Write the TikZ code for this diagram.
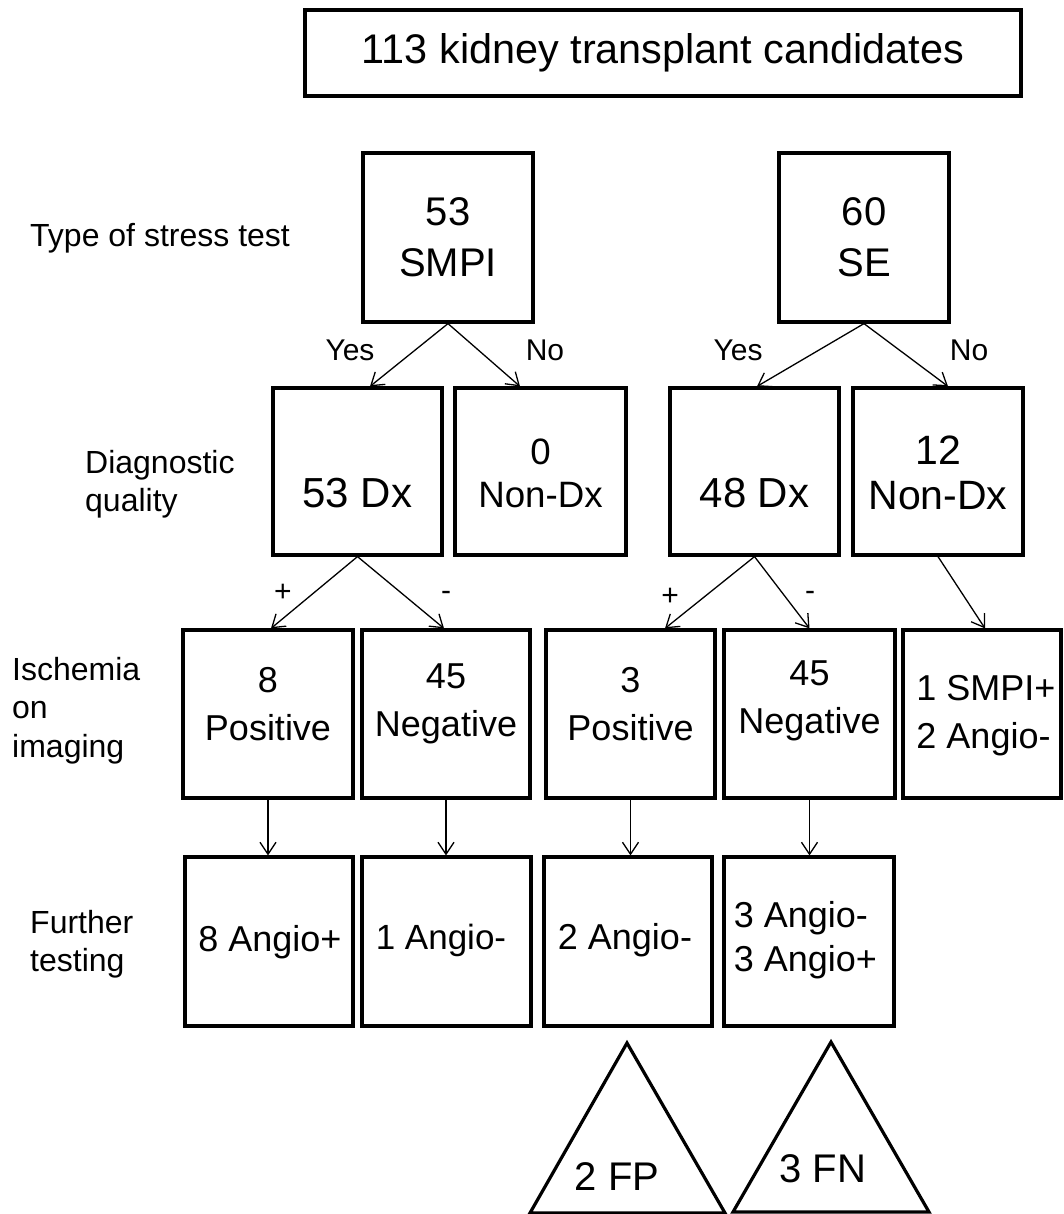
\documentclass[tikz,border=0pt]{standalone}
\usepackage{fontspec}
\setmainfont{Liberation Sans}
\usetikzlibrary{arrows.meta,calc}
\begin{document}
\begin{tikzpicture}[x=1pt,y=-1pt,
  box/.style={draw, line width=3.2pt, inner sep=0pt},
  bt/.style={inner sep=0pt, align=center, font=\fontsize{36}{48}\selectfont},
  btl/.style={inner sep=0pt, align=left, font=\fontsize{36}{46}\selectfont},
  lab/.style={inner sep=0pt, align=left, anchor=west, font=\fontsize{32}{37.5}\selectfont},
  yn/.style={inner sep=0pt, font=\fontsize{30}{36}\selectfont},
  arr/.style={-{Straight Barb[length=12pt,width=16pt]}, line width=1.3pt},
  tri/.style={draw, line width=3.2pt, line join=miter}]
\useasboundingbox (0,0) rectangle (1063,1214);

% title
\node[box, minimum width=716pt, minimum height=86pt, font=\fontsize{41.4}{50}\selectfont] (top) at (663,53) {113 kidney transplant candidates};

% left labels
\node[lab] (lType) at (30,238.5) {Type of stress test};
\node[lab] (lDiag) at (85,484) {Diagnostic\\quality};
\node[lab, font=\fontsize{32}{38.5}\selectfont] (lIsch) at (12,710.5) {Ischemia\\on\\imaging};
\node[lab] (lFurt) at (30,944) {Further\\testing};

% row 1
\node[box, minimum width=170pt, minimum height=169pt] (smpi) at (448,237.5) {};
\node[box, minimum width=170pt, minimum height=169pt] (se) at (864,237.5) {};
\node[bt, font=\fontsize{40}{51}\selectfont] (smpiT) at (448,237.5) {53\\SMPI};
\node[bt, font=\fontsize{40}{51}\selectfont] (seT) at (864,237.5) {60\\SE};

% row 2
\node[box, minimum width=169pt, minimum height=167pt] (dx1) at (357.5,471.5) {};
\node[box, minimum width=171pt, minimum height=167pt] (nd1) at (540.5,471.5) {};
\node[box, minimum width=169pt, minimum height=167pt] (dx2) at (754.5,471.5) {};
\node[box, minimum width=170pt, minimum height=167pt] (nd2) at (938,471.5) {};
\node[bt, font=\fontsize{42}{48}\selectfont] (dx1T) at (357.5,493) {53 Dx};
\node[bt, font=\fontsize{36.7}{43}\selectfont] (nd1T) at (540.5,473) {0\\Non-Dx};
\node[bt, font=\fontsize{42}{48}\selectfont] (dx2T) at (754.5,493) {48 Dx};
\node[bt, font=\fontsize{41}{45}\selectfont] (nd2T) at (938,473) {12\\Non-Dx};

% row 3
\node[box, minimum width=170pt, minimum height=168pt] (pos1) at (268,714) {};
\node[box, minimum width=168pt, minimum height=168pt] (neg1) at (446,714) {};
\node[box, minimum width=169pt, minimum height=168pt] (pos2) at (630.5,714) {};
\node[box, minimum width=171pt, minimum height=168pt] (neg2) at (809.5,714) {};
\node[box, minimum width=158pt, minimum height=168pt] (sp) at (982,714) {};
\node[bt] (pos1T) at (268,704) {8\\Positive};
\node[bt] (neg1T) at (446,704) {45\\Negative};
\node[bt] (pos2T) at (630.5,704) {3\\Positive};
\node[bt] (neg2T) at (809.5,701) {45\\Negative};
\node[btl, font=\fontsize{36}{48}\selectfont] (spT) at (986,716) {1 SMPI+\\2 Angio-};

% row 4
\node[box, minimum width=168pt, minimum height=169pt] (ang1) at (269,941.5) {};
\node[box, minimum width=169pt, minimum height=169pt] (ang2) at (446.5,941.5) {};
\node[box, minimum width=168pt, minimum height=169pt] (ang3) at (628,941.5) {};
\node[box, minimum width=170pt, minimum height=169pt] (ang4) at (809,941.5) {};
\node[bt] (ang1T) at (270,942) {8 Angio+};
\node[bt, font=\fontsize{35}{44}\selectfont] (ang2T) at (441,940) {1 Angio-};
\node[bt] (ang3T) at (625,940) {2 Angio-};
\node[btl, font=\fontsize{36}{44}\selectfont] (ang4T) at (805.5,940) {3 Angio-\\3 Angio+};

% yes / no / + / - labels
\node[yn] (yes1) at (350,350) {Yes};
\node[yn] (no1) at (545,350) {No};
\node[yn] (yes2) at (738,350) {Yes};
\node[yn] (no2) at (969,350) {No};
\node[yn] (plus1) at (283,593) {+};
\node[yn] (minus1) at (446,596) {-};
\node[yn] (plus2) at (670,597) {+};
\node[yn] (minus2) at (810,596) {-};

% connectors
\draw[arr] (smpi.south) -- ($(dx1.north)+(12.5,0)$);
\draw[arr] (smpi.south) -- ($(nd1.north)+(-20.5,0)$);
\draw[arr] (se.south) -- ($(dx2.north)+(2.5,0)$);
\draw[arr] (se.south) -- ($(nd2.north)+(10,0)$);
\draw[arr] (dx1.south) -- ($(pos1.north)+(3,0)$);
\draw[arr] (dx1.south) -- ($(neg1.north)+(-2,0)$);
\draw[arr] (dx2.south) -- ($(pos2.north)+(34.5,0)$);
\draw[arr] (dx2.south) -- (neg2.north);
\draw[arr] (nd2.south) -- ($(sp.north)+(3,0)$);
\draw[arr] (pos1.south) -- (pos1.south |- ang1.north);
\draw[arr] (neg1.south) -- (neg1.south |- ang2.north);
\draw[arr] (pos2.south) -- (pos2.south |- ang3.north);
\draw[arr] (neg2.south) -- (neg2.south |- ang4.north);

% triangles
\draw[tri] (627,1043) -- (530,1213) -- (725,1213) -- cycle;
\draw[tri] (831,1042) -- (733,1212) -- (929,1212) -- cycle;
\node[inner sep=0pt, font=\fontsize{40}{48}\selectfont] (fp) at (617,1177) {2 FP};
\node[inner sep=0pt, font=\fontsize{40}{48}\selectfont] (fn) at (823,1169) {3 FN};
\end{tikzpicture}
\end{document}
